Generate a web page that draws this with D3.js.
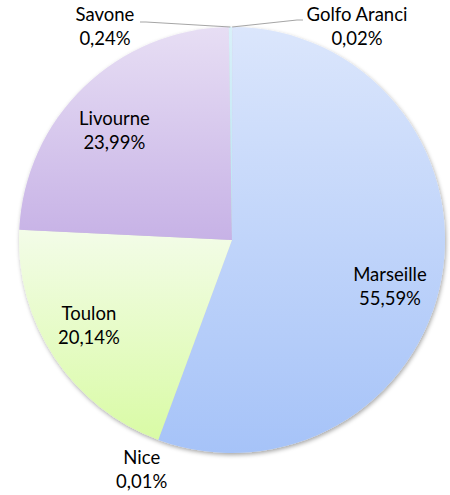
<!DOCTYPE html>
<html>
<head>
<meta charset="utf-8">
<script src="https://cdn.jsdelivr.net/npm/d3@7"></script>
<style>
  body { margin: 0; background: #fff; }
  text { font-family: Lato, "Open Sans", sans-serif; font-size: 18.5px; fill: #000; }
</style>
</head>
<body>
<script>
// ports and their share of traffic (%), clockwise from 12 o'clock
var ports = ["Golfo Aranci", "Marseille", "Nice", "Toulon", "Livourne", "Savone"];
var shares = [0.02, 55.59, 0.01, 20.14, 23.99, 0.24];
var shareLabels = ["0,02%", "55,59%", "0,01%", "20,14%", "23,99%", "0,24%"];

// gradient colours per slice (top, bottom)
var colorsTop = ["#dde9fc", "#dbe6fc", "#dbe6fc", "#f3fce8", "#e7def4", "#d9f1f9"];
var colorsBottom = ["#a7c4f8", "#a6c3f8", "#a6c3f8", "#d9fba5", "#c7b2e6", "#b6e3f3"];

var width = 450, height = 495;
var cx = 232, cy = 240, radius = 213;

var svg = d3.select("body")
    .append("svg")
    .attr("width", width)
    .attr("height", height);

var defs = svg.append("defs");

// soft shadow under the pie
var filter = defs.append("filter")
    .attr("id", "shadow")
    .attr("x", "-10%").attr("y", "-10%")
    .attr("width", "120%").attr("height", "120%");
filter.append("feDropShadow")
    .attr("dx", 1).attr("dy", 2)
    .attr("stdDeviation", 2)
    .attr("flood-color", "#000")
    .attr("flood-opacity", 0.35);

ports.forEach(function(p, i) {
    var g = defs.append("linearGradient")
        .attr("id", "grad" + i)
        .attr("x1", 0).attr("y1", 0)
        .attr("x2", 0).attr("y2", 1);
    g.append("stop").attr("offset", "0%").attr("stop-color", colorsTop[i]);
    g.append("stop").attr("offset", "100%").attr("stop-color", colorsBottom[i]);
});

var data = ports.map(function(p, i) {
    return { name: p, value: shares[i], label: shareLabels[i], idx: i };
});

var pie = d3.pie()
    .sort(null)
    .value(function(d) { return d.value; });

var arc = d3.arc()
    .innerRadius(0)
    .outerRadius(radius);

var arcs = pie(data);

var chart = svg.append("g")
    .attr("transform", "translate(" + cx + "," + cy + ")");

var slices = chart.append("g").attr("filter", "url(#shadow)");

slices.selectAll("path")
    .data(arcs)
    .enter().append("path")
    .attr("d", arc)
    .attr("fill", function(d) { return "url(#grad" + d.data.idx + ")"; })
    .attr("stroke", "none");

// label placement: inside labels sit on a label radius, small ones outside
var labelArc = d3.arc().innerRadius(162).outerRadius(162);
var niceArc = d3.arc().innerRadius(235).outerRadius(235);
var outerArc = d3.arc().innerRadius(radius).outerRadius(radius);

// nudges to match the original layout (first line baseline)
var nudge = {
    "Marseille": [-1.5, 12.5],
    "Livourne": [-5, 1],
    "Toulon": [-8, -9.5],
    "Nice": [-9, 3.5]
};

function labelPos(d) {
    var name = d.data.name;
    var c;
    if (name === "Savone") return [-127, -219];
    if (name === "Golfo Aranci") return [125, -219];
    c = name === "Nice" ? niceArc.centroid(d) : labelArc.centroid(d);
    return [c[0] + nudge[name][0], c[1] + nudge[name][1]];
}

var labels = chart.append("g")
    .selectAll("text")
    .data(arcs)
    .enter().append("text")
    .attr("text-anchor", "middle")
    .attr("transform", function(d) {
        var p = labelPos(d);
        return "translate(" + p[0] + "," + p[1] + ")";
    });

labels.append("tspan")
    .attr("x", 0)
    .attr("dy", 0)
    .text(function(d) { return d.data.name; });

labels.append("tspan")
    .attr("x", 0)
    .attr("dy", 24)
    .text(function(d) { return d.data.label; });

// leader lines for the two tiny slices at the top
var leaders = arcs.filter(function(d) {
    return d.data.name === "Savone" || d.data.name === "Golfo Aranci";
});

chart.append("g")
    .selectAll("polyline")
    .data(leaders)
    .enter().append("polyline")
    .attr("fill", "none")
    .attr("stroke", "#a6a6a6")
    .attr("stroke-width", 1.2)
    .attr("points", function(d) {
        var end = outerArc.centroid(d);
        var pos = labelPos(d);
        var left = d.data.name === "Savone";
        var x0 = left ? pos[0] + 35 : pos[0] - 54;
        var x1 = left ? x0 + 6 : x0 - 6;
        var y0 = left ? pos[1] + 1 : pos[1] - 1;
        return [[x0, y0], [x1, y0], [end[0], end[1]]].map(function(p) { return p.join(","); }).join(" ");
    });
</script>
</body>
</html>
